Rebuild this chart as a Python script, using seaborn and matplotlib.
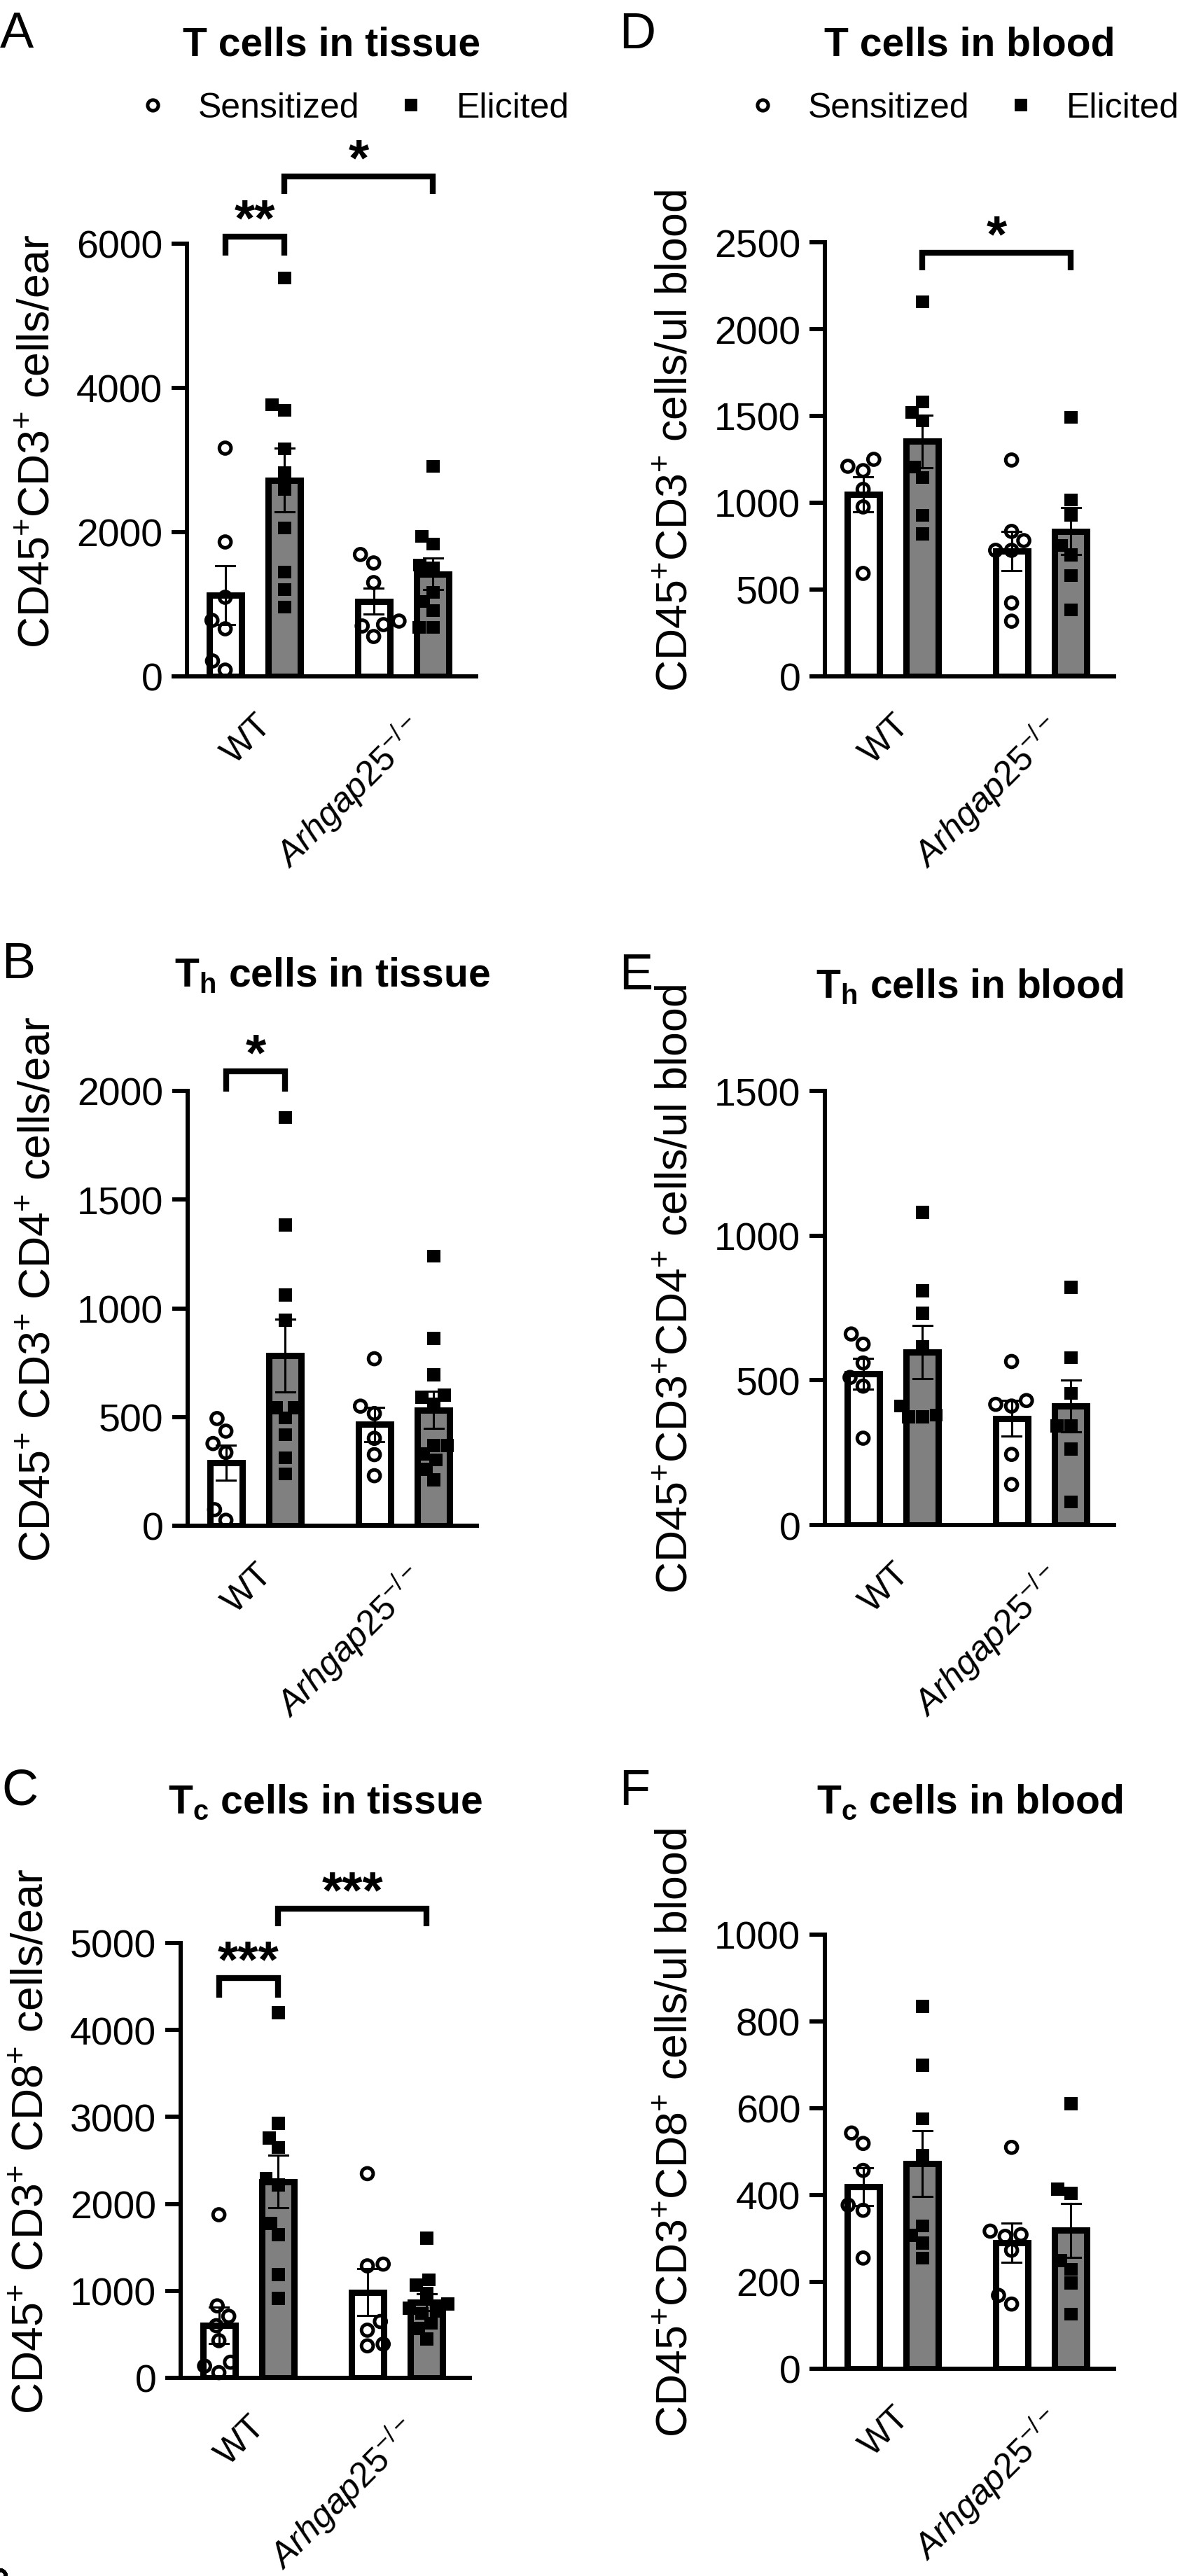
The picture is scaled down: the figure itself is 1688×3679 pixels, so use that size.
import warnings
warnings.filterwarnings("ignore")
import numpy as np
import pandas as pd
import matplotlib
matplotlib.use("Agg")
import matplotlib.pyplot as plt
from matplotlib.lines import Line2D
import seaborn as sns

# ---------------- data ----------------
genotypes = ["WT", "Arhgap25"]
conditions = ["Sensitized", "Elicited"]
tick_labels = ["WT", r"$\mathit{Arhgap25}^{-/-}$"]

# A: T cells in tissue (cells/ear)
A_WT_S = [3165, 1864, 1097, 777, 660, 214, 87]
A_WT_E = [5525, 3767, 3690, 3156, 2826, 2593, 2058, 1447, 1204, 961]
A_KO_S = [1690, 1573, 1301, 767, 718, 699, 553]
A_KO_E = [2913, 1942, 1835, 1544, 1505, 1165, 1039, 913, 680, 680]

# D: T cells in blood (cells/ul blood)
D_WT_S = [1250, 1210, 1185, 1077, 976, 593]
D_WT_E = [2157, 1581, 1520, 1472, 1206, 1145, 927, 822]
D_KO_S = [1246, 835, 782, 726, 726, 423, 318]
D_KO_E = [1492, 1016, 927, 754, 700, 581, 383]

# B: Th cells in tissue
B_WT_S = [493, 435, 378, 337, 74, 25]
B_WT_E = [1878, 1384, 1060, 945, 542, 542, 496, 419, 312, 238]
B_KO_S = [768, 550, 516, 402, 327, 230]
B_KO_E = [1240, 862, 694, 590, 600, 560, 368, 368, 303, 330, 260, 210]

# E: Th cells in blood
E_WT_S = [660, 625, 560, 510, 480, 300]
E_WT_E = [1080, 809, 732, 615, 411, 374, 374, 380]
E_KO_S = [565, 430, 417, 411, 244, 140]
E_KO_E = [821, 578, 455, 343, 343, 263, 80]

# C: Tc cells in tissue
C_WT_S = [1876, 828, 708, 600, 428, 180, 136, 60]
C_WT_E = [4196, 2928, 2760, 2648, 2288, 2216, 1776, 1648, 1188, 916]
C_KO_S = [2348, 1308, 1288, 648, 548, 388, 368]
C_KO_E = [1608, 1128, 1068, 968, 850, 768, 740, 628, 568, 448, 800]

# F: Tc cells in blood
F_WT_S = [543, 519, 457, 377, 365, 255]
F_WT_E = [835, 699, 576, 492, 329, 307, 289, 255]
F_KO_S = [510, 317, 309, 305, 273, 169, 149]
F_KO_E = [610, 414, 404, 249, 229, 198, 126]

# significance brackets: (bar1, bar2, line value, leg end value, label)
A_sig = [(("WT", "Sensitized"), ("WT", "Elicited"), 6098, 5836, "**"),
         (("WT", "Elicited"), ("Arhgap25", "Elicited"), 6933, 6690, "*")]
D_sig = [(("WT", "Elicited"), ("Arhgap25", "Elicited"), 2439, 2339, "*")]
B_sig = [(("WT", "Sensitized"), ("WT", "Elicited"), 2090, 1996, "*")]
C_sig = [(("WT", "Sensitized"), ("WT", "Elicited"), 4597, 4371, "***"),
         (("WT", "Elicited"), ("Arhgap25", "Elicited"), 5394, 5192, "***")]
E_sig = []
F_sig = []

# ---------------- style ----------------
plt.rcParams["font.family"] = ["Liberation Sans", "DejaVu Sans"]
plt.rcParams["mathtext.fontset"] = "custom"
plt.rcParams["mathtext.rm"] = "Liberation Sans"
plt.rcParams["mathtext.it"] = "Liberation Sans:italic"
plt.rcParams["mathtext.bf"] = "Liberation Sans:bold"
plt.rcParams["mathtext.sf"] = "Liberation Sans"
plt.rcParams["text.color"] = "black"
plt.rcParams["axes.labelcolor"] = "black"
plt.rcParams["xtick.color"] = "black"
plt.rcParams["ytick.color"] = "black"
plt.rcParams["axes.edgecolor"] = "black"

W, H = 1688, 3680
fig = plt.figure(figsize=(W / 100, H / 100), dpi=100)

AX_W = 413          # axis width in px
UNIT = 212          # px per category
XL = -97 / UNIT     # spine position relative to first group centre
XR = XL + AX_W / UNIT


def rect(left, top, bottom):
    return [left / W, 1 - bottom / H, AX_W / W, (bottom - top) / H]


def xpos(bar):
    g, c = bar
    return genotypes.index(g) + (-0.2 if c == "Sensitized" else 0.2)


def draw_panel(ax, wt_s, wt_e, ko_s, ko_e, ymax, ystep, ylabel, sig):
    rows = []
    for g, s_vals, e_vals in [("WT", wt_s, wt_e), ("Arhgap25", ko_s, ko_e)]:
        rows += [(g, "Sensitized", v) for v in s_vals]
        rows += [(g, "Elicited", v) for v in e_vals]
    df = pd.DataFrame(rows, columns=["genotype", "condition", "value"])

    sns.barplot(data=df, x="genotype", y="value", hue="condition",
                order=genotypes, hue_order=conditions,
                palette={"Sensitized": "white", "Elicited": "#808080"},
                saturation=1, errorbar="se", capsize=0.26, width=0.8, gap=0.457,
                edgecolor="black", linewidth=6.5,
                err_kws={"color": "black", "linewidth": 2.2, "zorder": 4},
                legend=False, ax=ax)

    n0 = len(ax.collections)
    sns.swarmplot(data=df[df.condition == "Sensitized"], x="genotype", y="value",
                  hue="condition", order=genotypes, hue_order=conditions,
                  dodge=True, palette={"Sensitized": "white", "Elicited": "black"},
                  marker="o", size=12, edgecolor="black", linewidth=3.6,
                  legend=False, ax=ax, zorder=3)
    for c in ax.collections[n0:]:
        c.set_facecolor("none")
        c.set_clip_on(False)
    n1 = len(ax.collections)
    sns.swarmplot(data=df[df.condition == "Elicited"], x="genotype", y="value",
                  hue="condition", order=genotypes, hue_order=conditions,
                  dodge=True, palette={"Sensitized": "white", "Elicited": "black"},
                  marker="s", size=13.5, linewidth=0,
                  legend=False, ax=ax, zorder=3)
    for c in ax.collections[n1:]:
        c.set_clip_on(False)

    ax.set_xlim(XL, XR)
    ax.set_ylim(0, ymax)
    ax.set_yticks(np.arange(0, ymax + 1, ystep))
    ax.set_xticks([0, 1])
    ax.set_xticklabels(tick_labels, rotation=45, ha="right", va="top",
                       rotation_mode="anchor", fontsize=36)
    ax.tick_params(axis="x", length=0, pad=33)
    ax.tick_params(axis="y", length=16, width=4.3, labelsize=40, pad=9, direction="out")
    for s in ["top", "right"]:
        ax.spines[s].set_visible(False)
    for s in ["left", "bottom"]:
        ax.spines[s].set_linewidth(4.3)
        ax.spines[s].set_capstyle("projecting")
    ax.set_xlabel("")
    ax.set_ylabel(ylabel, fontsize=45)
    ax.yaxis.label.set_va("center")
    ax.yaxis.set_label_coords(-213 / AX_W, 0.545)
    ax.set_facecolor("white")

    for b1, b2, yl, yleg, lab in sig:
        x1, x2 = xpos(b1), xpos(b2)
        ax.plot([x1, x1, x2, x2], [yleg, yl, yl, yleg], color="black", lw=6,
                clip_on=False, solid_joinstyle="miter", solid_capstyle="butt", zorder=5)
        ax.annotate(lab, xy=((x1 + x2) / 2, yl), xytext=(0, 2), textcoords="offset points",
                    ha="center", va="baseline", fontsize=54, fontweight="bold",
                    annotation_clip=False)


panels = [
    # letter, rect(left, top, bottom), data, ymax, step, ylabel, title, title baseline, letter x, letter baseline, sig
    ("A", rect(267, 349, 967), (A_WT_S, A_WT_E, A_KO_S, A_KO_E), 6000, 2000,
     r"CD45$^{+}$CD3$^{+}$ cells/ear", "T cells in tissue", 80, 0, 68, A_sig),
    ("D", rect(1178, 347, 967), (D_WT_S, D_WT_E, D_KO_S, D_KO_E), 2500, 500,
     r"CD45$^{+}$CD3$^{+}$ cells/ul blood", "T cells in blood", 80, 884, 69, D_sig),
    ("B", rect(268, 1559, 2180), (B_WT_S, B_WT_E, B_KO_S, B_KO_E), 2000, 500,
     r"CD45$^{+}$ CD3$^{+}$ CD4$^{+}$ cells/ear", r"T$_{\mathbf{h}}$ cells in tissue", 1409, 2, 1397, B_sig),
    ("E", rect(1178, 1559, 2179), (E_WT_S, E_WT_E, E_KO_S, E_KO_E), 1500, 500,
     r"CD45$^{+}$CD3$^{+}$CD4$^{+}$ cells/ul blood", r"T$_{\mathbf{h}}$ cells in blood", 1425, 884, 1413, E_sig),
    ("C", rect(258, 2776, 3397), (C_WT_S, C_WT_E, C_KO_S, C_KO_E), 5000, 1000,
     r"CD45$^{+}$ CD3$^{+}$ CD8$^{+}$ cells/ear", r"T$_{\mathbf{c}}$ cells in tissue", 2590, 2, 2578, C_sig),
    ("F", rect(1178, 2764, 3384), (F_WT_S, F_WT_E, F_KO_S, F_KO_E), 1000, 200,
     r"CD45$^{+}$CD3$^{+}$CD8$^{+}$ cells/ul blood", r"T$_{\mathbf{c}}$ cells in blood", 2590, 884, 2578, F_sig),
]

for letter, r, data, ymax, step, ylab, title, tb, lx, lb, sig in panels:
    ax = fig.add_axes(r)
    draw_panel(ax, *data, ymax, step, ylab, sig)
    cx = r[0] + r[2] / 2
    fig.text(cx, 1 - tb / H, title, ha="center", va="baseline",
             fontsize=41, fontweight="bold")
    fig.text(lx / W, 1 - lb / H, letter, ha="left", va="baseline", fontsize=52)

# legends for the top row
handles = [Line2D([], [], linestyle="none", marker="o", markersize=11,
                  markerfacecolor="none", markeredgecolor="black", markeredgewidth=3.6),
           Line2D([], [], linestyle="none", marker="s", markersize=13.5,
                  markerfacecolor="black", markeredgewidth=0)]
for lx in [193, 1064]:
    fig.legend(handles, conditions, loc="center left", bbox_to_anchor=(lx / W, 1 - 155 / H),
               ncol=2, frameon=False, fontsize=36, handlelength=1.0, handletextpad=0.8,
               columnspacing=0.96, borderpad=0, borderaxespad=0)

fig.savefig("out.png", dpi=100, facecolor="white")
